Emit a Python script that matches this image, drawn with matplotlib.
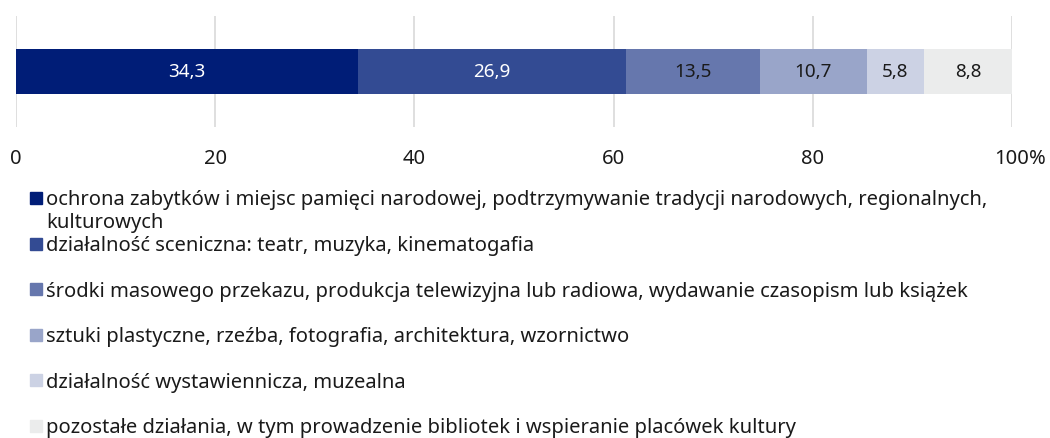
import matplotlib

matplotlib.use("Agg")
import matplotlib.pyplot as plt
from matplotlib.patches import Rectangle

plt.rcParams["font.family"] = ["Noto Sans", "DejaVu Sans"]

# data
categories = [
    "ochrona zabytków i miejsc pamięci narodowej, podtrzymywanie tradycji narodowych, regionalnych,\nkulturowych",
    "działalność sceniczna: teatr, muzyka, kinematogafia",
    "środki masowego przekazu, produkcja telewizyjna lub radiowa, wydawanie czasopism lub książek",
    "sztuki plastyczne, rzeźba, fotografia, architektura, wzornictwo",
    "działalność wystawiennicza, muzealna",
    "pozostałe działania, w tym prowadzenie bibliotek i wspieranie placówek kultury",
]
values = [34.3, 26.9, 13.5, 10.7, 5.8, 8.8]
colors = ["#001d77", "#334b93", "#6677ad", "#99a5c9", "#ccd2e4", "#ebecec"]
label_colors = ["white", "white", "#1a1a1a", "#1a1a1a", "#1a1a1a", "#1a1a1a"]
ticks = [0, 20, 40, 60, 80, 100]

FS = 14.5
W, H = 1050, 439
fig = plt.figure(figsize=(W / 100, H / 100), dpi=100)
ax = fig.add_axes([16 / W, 1 - 128 / H, (1012 - 16) / W, (128 - 17) / H])

left = 0
for v, c, lc in zip(values, colors, label_colors):
    ax.barh(0, v, left=left, height=0.405, color=c, zorder=2)
    ax.text(left + v / 2, 0, f"{v:.1f}".replace(".", ","), ha="center", va="center",
            color=lc, fontsize=13.6, zorder=3)
    left += v

ax.set_xlim(0, 100)
ax.set_ylim(-0.5, 0.5)
ax.set_yticks([])
ax.set_xticks(ticks)
ax.set_xticklabels([str(t) for t in ticks], fontsize=FS, color="#1a1a1a")
ax.tick_params(axis="x", length=0, pad=15)
ax.grid(axis="x", color="#d9d9d9", linewidth=1.2, zorder=0)
for s in ax.spines.values():
    s.set_visible(False)
ax.annotate("%", xy=(100, 0), xycoords=("data", "axes fraction"), xytext=(12, -15),
            textcoords="offset points", ha="left", va="top", fontsize=FS, color="#1a1a1a")

# legend drawn by hand, fixed row spacing (long first label overflows)
y0, step, line_h = 199, 45.6, 23
for i, (lab, c) in enumerate(zip(categories, colors)):
    yc = y0 + i * step
    fig.patches.append(Rectangle((30 / W, 1 - (yc + 6) / H), 12 / W, 12 / H,
                                 transform=fig.transFigure, color=c))
    for k, line in enumerate(lab.split("\n")):
        fig.text(46 / W, 1 - (yc + 6.5 + k * line_h) / H, line, ha="left",
                 va="baseline", fontsize=FS, color="#1a1a1a")

fig.savefig("out.png", dpi=100)
